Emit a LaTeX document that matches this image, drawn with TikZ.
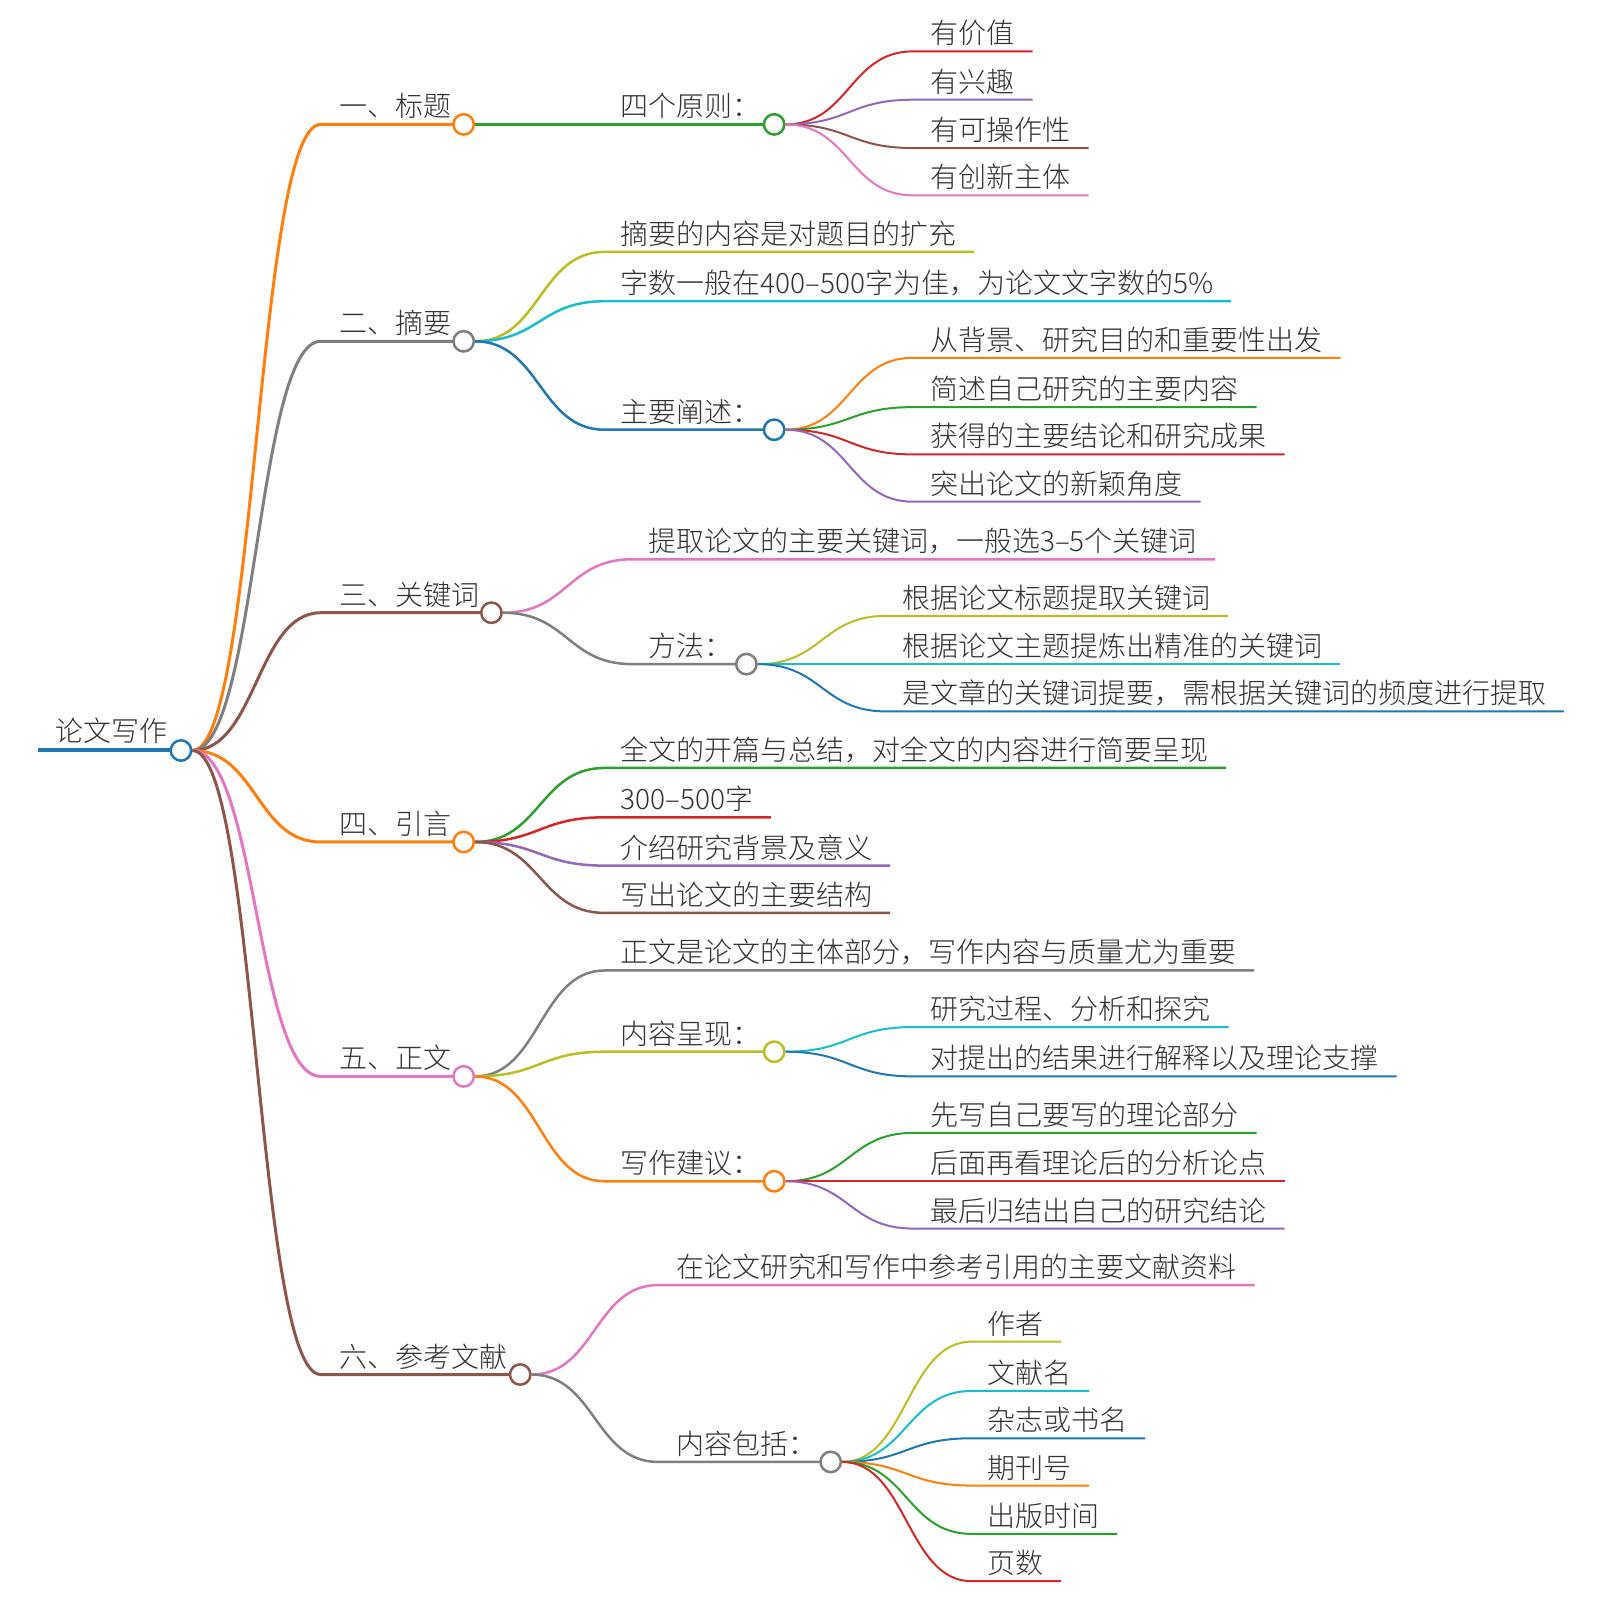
\documentclass[tikz,border=0pt]{standalone}
\usepackage{fontspec}
\newfontfamily\cjk{Noto Sans CJK SC Light}
\usetikzlibrary{calc}
\definecolor{corange}{HTML}{FF7F0E}
\definecolor{cgray}{HTML}{7F7F7F}
\definecolor{cbrown}{HTML}{8C564B}
\definecolor{cpink}{HTML}{E377C2}
\definecolor{colive}{HTML}{BCBD22}
\definecolor{ccyan}{HTML}{17BECF}
\definecolor{cblue}{HTML}{1F77B4}
\definecolor{cgreen}{HTML}{2CA02C}
\definecolor{cred}{HTML}{D62728}
\definecolor{cpurple}{HTML}{9467BD}
\definecolor{txtc}{HTML}{333333}
\tikzset{
  txt/.style={anchor=base west, inner sep=0pt, font=\cjk\fontsize{14}{16}\selectfont, text=txtc},
  dot/.style={circle, draw=#1, fill=white, line width=1.25pt, minimum size=10.2pt, inner sep=0pt},
  lroot/.style={line width=2pt},
  lmain/.style={line width=1.5pt},
  ltwo/.style={line width=1.25pt},
  lthree/.style={line width=1pt},
  sc/.style={to path={.. controls ($(\tikztostart)!0.5!(\tikztostart -| \tikztotarget)$) and ($(\tikztotarget)!0.5!(\tikztotarget -| \tikztostart)$) .. (\tikztotarget)}}
}
% leaf: #1 name, #2 parent, #3 style, #4 line start x, #5 y, #6 text x, #7 text
\newcommand\mmleaf[7]{%
  \coordinate (#1s) at (#4,#5);
  \node[txt] (#1) at (#6,#5-7.3) {#7};
  \draw[#3] (#2.east) to[sc] (#1s) -- ($(#1s -| #1.east)+(8.7pt,0)$);
}
% branch: #1 name, #2 parent, #3 style, #4 colour, #5 line start x, #6 y, #7 text x, #8 circle x, #9 text
\newcommand\mmbranch[9]{%
  \coordinate (#1s) at (#5,#6);
  \node[txt] (#1t) at (#7,#6-7.3) {#9};
  \draw[#3,#4] (#2.east) to[sc] (#1s) -- (#8,#6);
  \node[dot=#4] (#1) at (#8,#6) {};
}
\begin{document}
\begin{tikzpicture}[x=0.514pt,y=-0.514pt]
\fill[white] (0,0) rectangle (1557,1568);
\useasboundingbox (0,0) rectangle (1557,1568);
% root
\coordinate (rootS) at (37,730);
\node[txt] (roott) at (54,721) {论文写作};
\draw[lroot,cblue] (rootS) -- (176,730);
\node[dot=cblue] (root) at (176,730) {};

% ---------- main branches
\mmbranch{M1}{root}{lmain}{corange}{312}{121}{330}{451}{一、标题}
\mmbranch{M2}{root}{lmain}{cgray}{312}{332}{330}{451}{二、摘要}
\mmbranch{M3}{root}{lmain}{cbrown}{312}{596}{330}{478}{三、关键词}
\mmbranch{M4}{root}{lmain}{corange}{312}{819}{330}{451}{四、引言}
\mmbranch{M5}{root}{lmain}{cpink}{312}{1047}{330}{451}{五、正文}
\mmbranch{M6}{root}{lmain}{cbrown}{312}{1337}{330}{506}{六、参考文献}

% ---------- 一、标题
\mmbranch{P1}{M1}{ltwo}{cgreen}{588}{121}{603}{753}{四个原则：}
\mmleaf{P1a}{P1}{lthree,cred}{888}{50}{905}{有价值}
\mmleaf{P1b}{P1}{lthree,cpurple}{888}{97}{905}{有兴趣}
\mmleaf{P1c}{P1}{lthree,cbrown}{888}{144}{905}{有可操作性}
\mmleaf{P1d}{P1}{lthree,cpink}{888}{190}{905}{有创新主体}

% ---------- 二、摘要
\mmleaf{A1}{M2}{ltwo,colive}{588}{245}{603}{摘要的内容是对题目的扩充}
\mmleaf{A2}{M2}{ltwo,ccyan}{588}{293}{603}{字数一般在400–500字为佳，为论文文字数的5\%}
\mmbranch{A3}{M2}{ltwo}{cblue}{588}{418}{603}{753}{主要阐述：}
\mmleaf{A3a}{A3}{lthree,corange}{888}{348}{905}{从背景、研究目的和重要性出发}
\mmleaf{A3b}{A3}{lthree,cgreen}{888}{396}{905}{简述自己研究的主要内容}
\mmleaf{A3c}{A3}{lthree,cred}{888}{442}{905}{获得的主要结论和研究成果}
\mmleaf{A3d}{A3}{lthree,cpurple}{888}{488}{905}{突出论文的新颖角度}

% ---------- 三、关键词
\mmleaf{K1}{M3}{ltwo,cpink}{615}{544}{630}{提取论文的主要关键词，一般选3–5个关键词}
\mmbranch{K2}{M3}{ltwo}{cgray}{615}{646}{630}{726}{方法：}
\mmleaf{K2a}{K2}{lthree,colive}{862}{599}{877}{根据论文标题提取关键词}
\mmleaf{K2b}{K2}{lthree,ccyan}{862}{646}{877}{根据论文主题提炼出精准的关键词}
\mmleaf{K2c}{K2}{lthree,cblue}{862}{692}{877}{是文章的关键词提要，需根据关键词的频度进行提取}

% ---------- 四、引言
\mmleaf{I1}{M4}{ltwo,cgreen}{588}{747}{603}{全文的开篇与总结，对全文的内容进行简要呈现}
\mmleaf{I2}{M4}{ltwo,cred}{588}{795}{603}{300–500字}
\mmleaf{I3}{M4}{ltwo,cpurple}{588}{842}{603}{介绍研究背景及意义}
\mmleaf{I4}{M4}{ltwo,cbrown}{588}{888}{603}{写出论文的主要结构}

% ---------- 五、正文
\mmleaf{Z1}{M5}{ltwo,cgray}{588}{944}{603}{正文是论文的主体部分，写作内容与质量尤为重要}
\mmbranch{Z2}{M5}{ltwo}{colive}{588}{1023}{603}{753}{内容呈现：}
\mmleaf{Z2a}{Z2}{lthree,ccyan}{888}{999}{905}{研究过程、分析和探究}
\mmleaf{Z2b}{Z2}{lthree,cblue}{888}{1047}{905}{对提出的结果进行解释以及理论支撑}
\mmbranch{Z3}{M5}{ltwo}{corange}{588}{1149}{603}{753}{写作建议：}
\mmleaf{Z3a}{Z3}{lthree,cgreen}{888}{1102}{905}{先写自己要写的理论部分}
\mmleaf{Z3b}{Z3}{lthree,cred}{888}{1149}{905}{后面再看理论后的分析论点}
\mmleaf{Z3c}{Z3}{lthree,cpurple}{888}{1195}{905}{最后归结出自己的研究结论}

% ---------- 六、参考文献
\mmleaf{R1}{M6}{ltwo,cpink}{640}{1250}{658}{在论文研究和写作中参考引用的主要文献资料}
\mmbranch{R2}{M6}{ltwo}{cgray}{640}{1422}{658}{808}{内容包括：}
\mmleaf{R2a}{R2}{lthree,colive}{945}{1305}{960}{作者}
\mmleaf{R2b}{R2}{lthree,ccyan}{945}{1353}{960}{文献名}
\mmleaf{R2c}{R2}{lthree,cblue}{945}{1399}{960}{杂志或书名}
\mmleaf{R2d}{R2}{lthree,corange}{945}{1445}{960}{期刊号}
\mmleaf{R2e}{R2}{lthree,cgreen}{945}{1492}{960}{出版时间}
\mmleaf{R2f}{R2}{lthree,cred}{945}{1538}{960}{页数}
\end{tikzpicture}
\end{document}
